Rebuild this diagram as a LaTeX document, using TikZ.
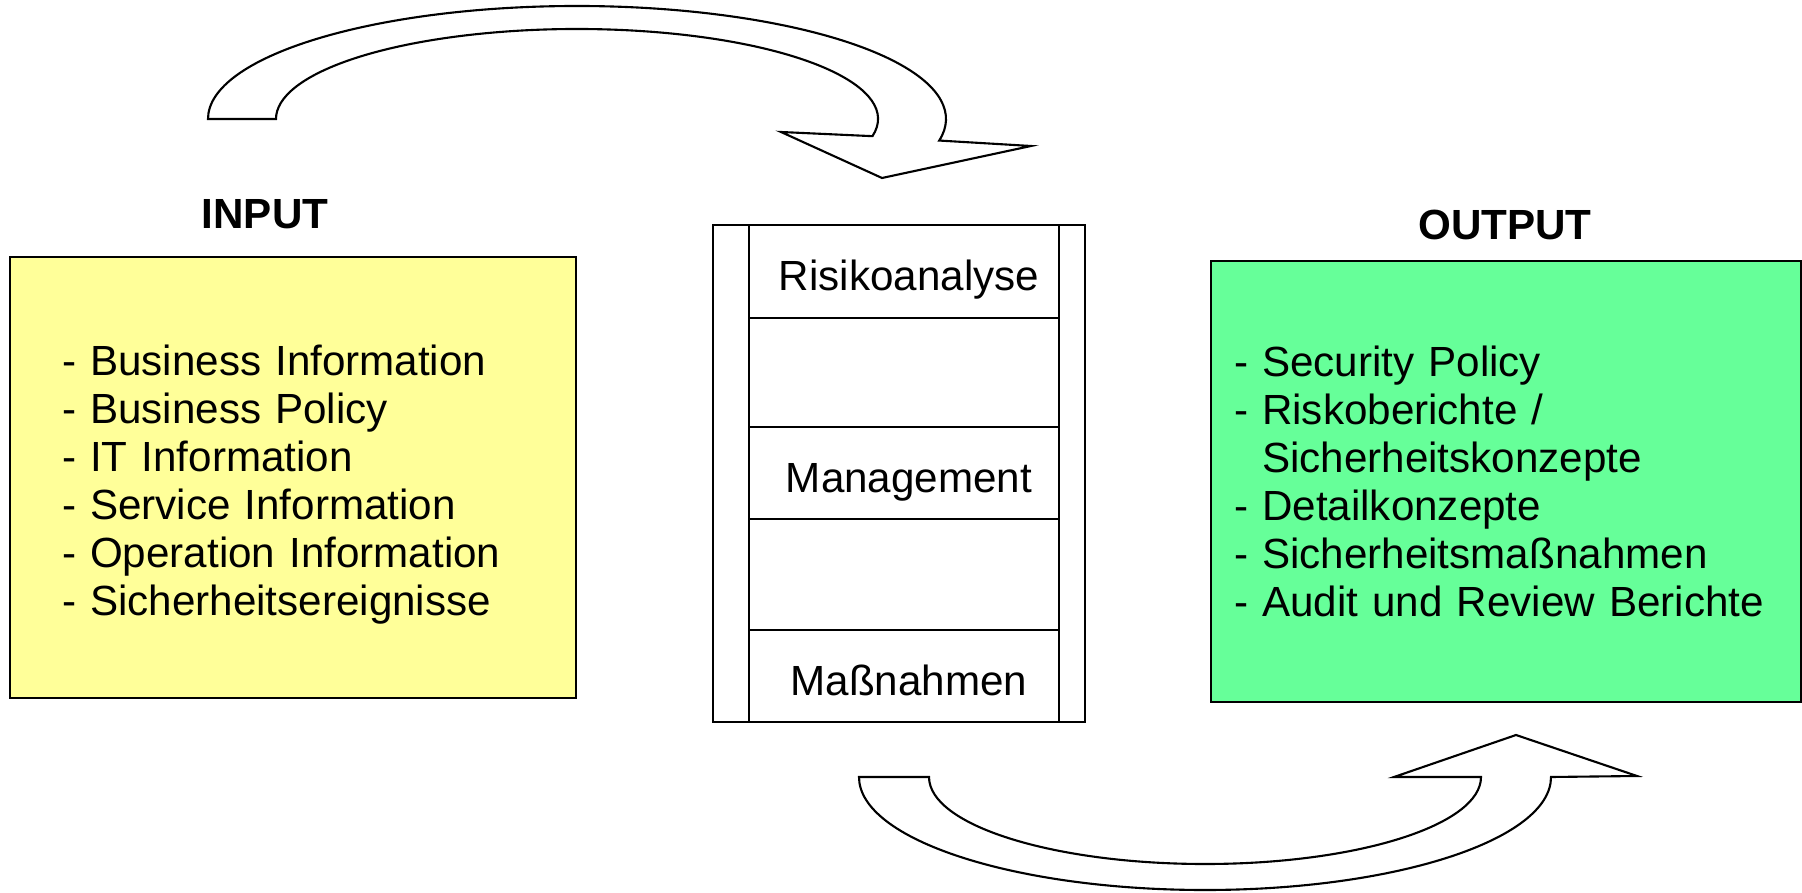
\documentclass[tikz,border=0pt]{standalone}
\usepackage{fontspec}
\setmainfont{Liberation Sans}
\usepackage{tikz}
\usetikzlibrary{positioning, calc}
\definecolor{cInput}{RGB}{255,255,153}
\definecolor{cOutput}{RGB}{102,255,153}
\tikzset{
    listbox/.style ={rectangle, draw=black, line width=0.6pt, minimum width=5.66cm, minimum height=4.41cm, align=left, inner ysep=0pt},
    heading/.style ={font=\fontsize{12}{14}\selectfont\bfseries, inner sep=0pt},
    frame/.style   ={rectangle, draw=black, line width=0.6pt, minimum width=3.72cm, minimum height=4.97cm, inner sep=0pt, outer sep=0pt},
    row/.style     ={rectangle, draw=black, line width=0.6pt, minimum width=3.10cm, inner sep=0pt, outer sep=0pt, text height=11pt, text depth=0pt},
    blockarrow/.style={draw=black, fill=white, line width=0.6pt, line join=miter},
}
\begin{document}
\begin{tikzpicture}[every node/.style={font=\fontsize{12}{13.7}\selectfont}]
    \useasboundingbox (0,0) rectangle (18.02,8.92);
    % input and output lists
    \node[listbox, fill=cInput, anchor=south west, inner xsep=0.52cm, text width=4.62cm, text height=12.7pt] (inbox) at (0.09,1.93)
        {- Business Information\\
         - Business Policy\\
         - IT Information\\
         - Service Information\\
         - Operation Information\\
         - Sicherheitsereignisse};
    \node[listbox, fill=cOutput, anchor=south west, minimum width=5.90cm, inner xsep=0.23cm, text width=5.44cm] (outbox) at (12.10,1.89)
        {- Security Policy\\
         - Riskoberichte /\\
         \phantom{- }Sicherheitskonzepte\\
         - Detailkonzepte\\
         - Sicherheitsmaßnahmen\\
         - Audit und Review Berichte};
    \node[heading] (inlabel) at (2.65,6.78) {INPUT};
    \node[heading] (outlabel) at (15.05,6.67) {OUTPUT};
    % process column
    \node[frame] (proc) at (8.99,4.185) {};
    \node[row, minimum height=0.93cm, below=0pt of proc.north, xshift=0.05cm] (r1) {\hspace*{0.1cm}Risikoanalyse};
    \node[row, minimum height=1.09cm, below=0pt of r1] (r2) {};
    \node[row, minimum height=0.92cm, below=0pt of r2] (r3) {\hspace*{0.1cm}Management};
    \node[row, minimum height=1.11cm, below=0pt of r3] (r4) {};
    \node[row, minimum height=0.92cm, below=0pt of r4] (r5) {\hspace*{0.1cm}Maßnahmen};
    % curved block arrows
    \coordinate (topc) at (5.77,7.73);
    \coordinate (botc) at (12.05,1.15);
    \draw[blockarrow] ($(topc)+(180:3.69 and 1.13)$) arc[start angle=180, end angle=-11, x radius=3.69cm, y radius=1.13cm]
        -- (10.31,7.46) -- (8.82,7.14) -- (7.81,7.60)
        -- ($(topc)+(-11:3.01 and 0.90)$) arc[start angle=-11, end angle=180, x radius=3.01cm, y radius=0.90cm] -- cycle;
    \draw[blockarrow] ($(botc)+(180:3.46 and 1.13)$) arc[start angle=180, end angle=360, x radius=3.46cm, y radius=1.13cm]
        -- (16.37,1.16) -- (15.16,1.57) -- (13.94,1.15)
        -- ($(botc)+(0:2.76 and 0.87)$) arc[start angle=0, end angle=-180, x radius=2.76cm, y radius=0.87cm] -- cycle;
\end{tikzpicture}
\end{document}
